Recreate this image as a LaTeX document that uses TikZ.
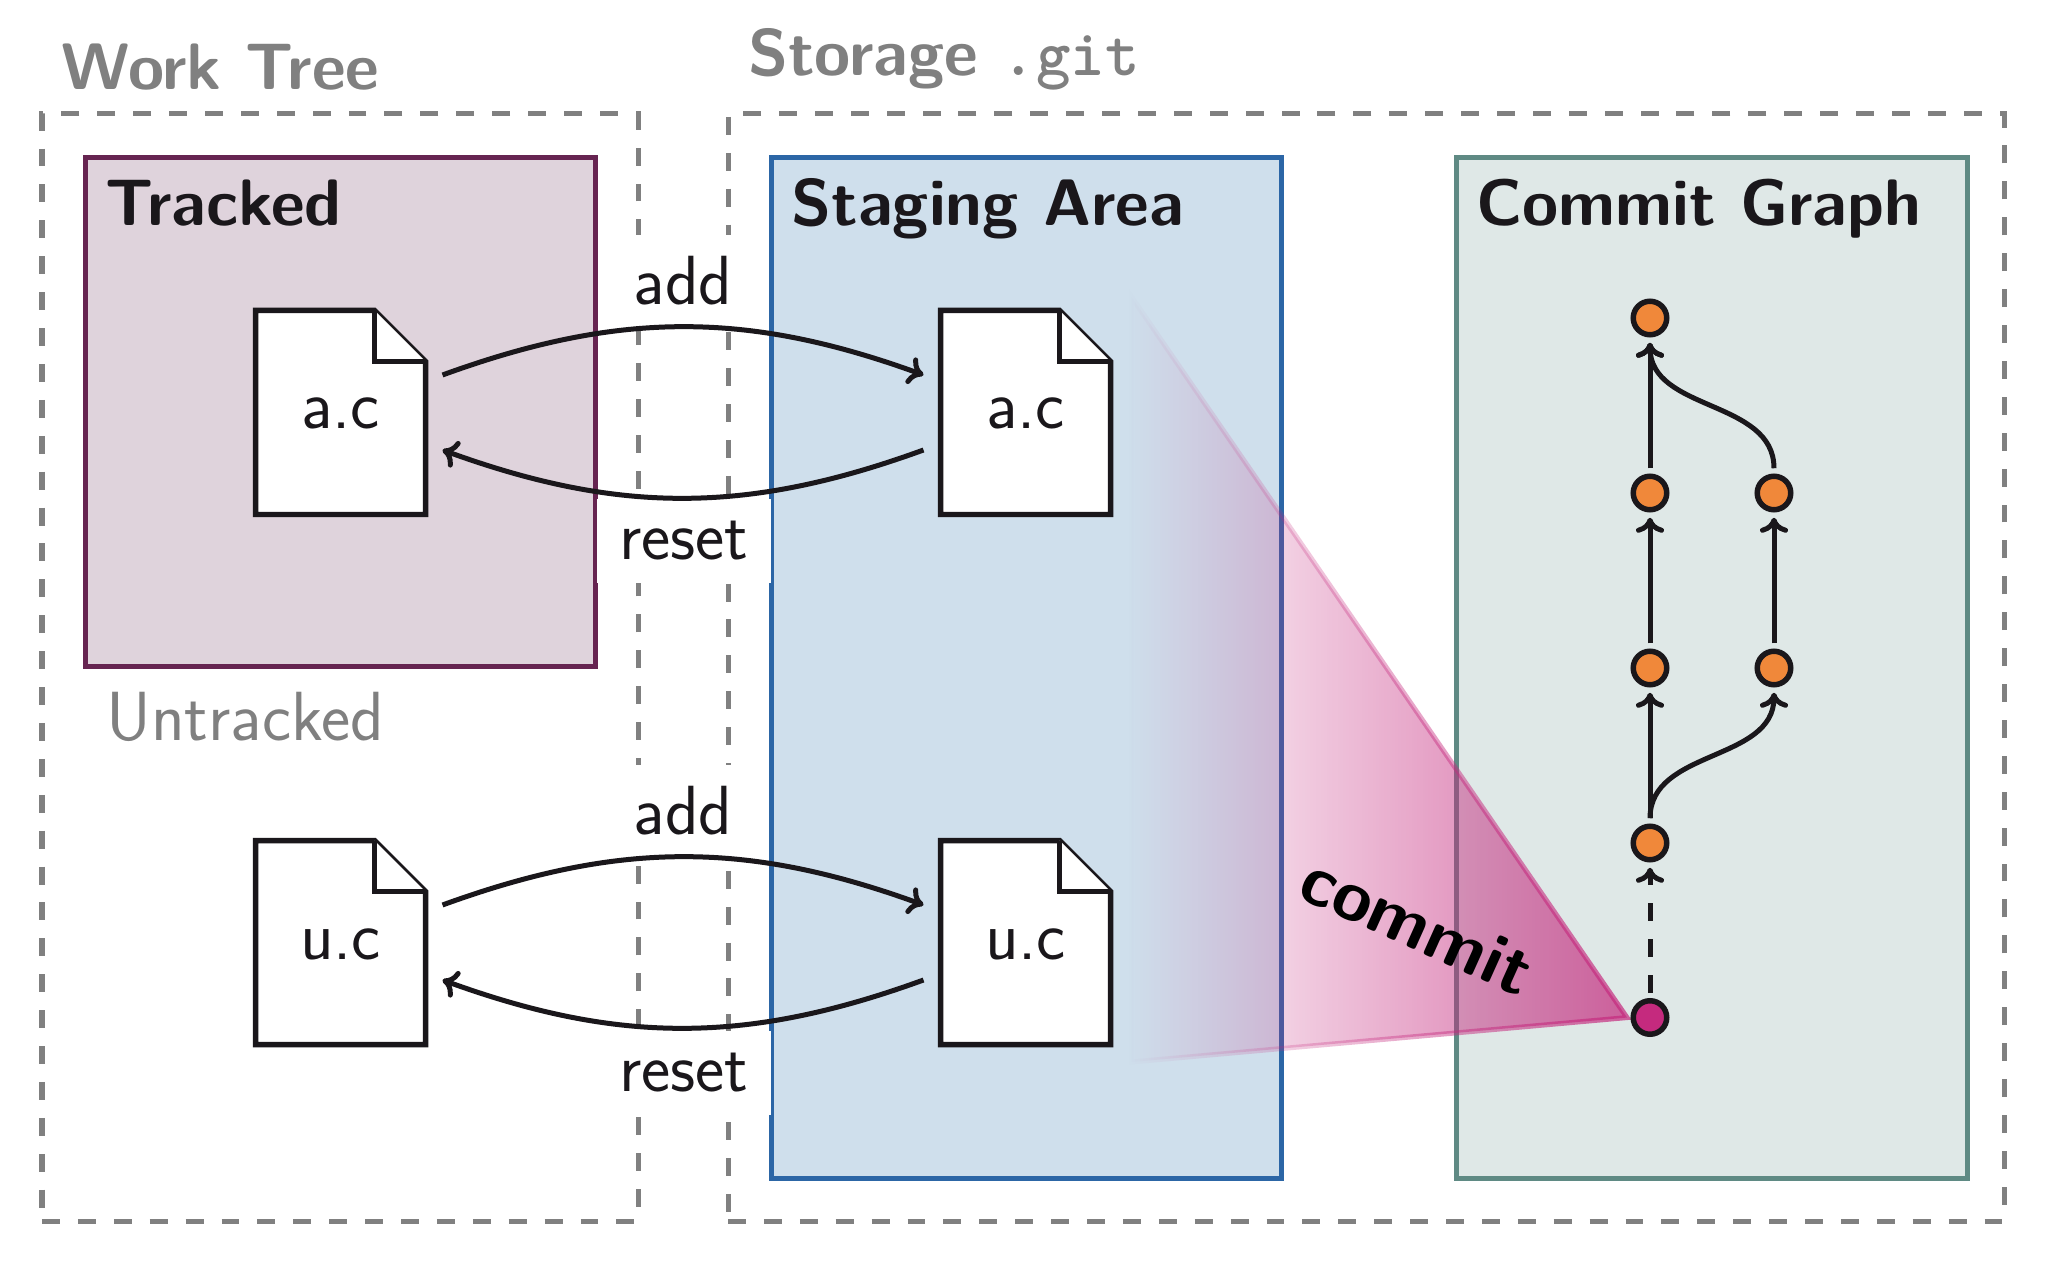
\documentclass[tikz,border=0pt]{standalone}
\usepackage{tikz}
\usetikzlibrary{fadings,arrows.meta}

\definecolor{inkblack}{HTML}{1A171B}
\definecolor{framegray}{HTML}{808080}
\definecolor{trackedfill}{HTML}{DFD3DC}
\definecolor{trackedline}{HTML}{662451}
\definecolor{stagefill}{HTML}{CFDFEC}
\definecolor{stageline}{HTML}{2C66A6}
\definecolor{graphfill}{HTML}{DFE8E7}
\definecolor{graphline}{HTML}{5F8A84}
\definecolor{commitdot}{HTML}{F0883A}
\definecolor{headdot}{HTML}{C52A7E}

\newcommand{\labelfont}{\fontsize{19.8}{23}\selectfont\sffamily}
\newcommand{\headfont}{\fontsize{18.7}{22}\selectfont\sffamily\bfseries}

\tikzfading[name=commitfade, left color=transparent!100, right color=transparent!28]

\tikzset{
  >={Computer Modern Rightarrow[width=.28cm, length=.15cm]},
  outerframe/.style={draw=framegray, line width=.05cm, dash pattern=on .1795cm off .1795cm},
  areabox/.style={line width=.05cm},
  heading/.style={font=\headfont, anchor=base west, inner sep=0},
  oplabel/.style={fill=white, text=inkblack, inner xsep=.225cm, inner ysep=.22cm},
  filepage/.style={draw=inkblack, fill=white, line width=.055cm, line join=miter},
  filename/.style={text=inkblack, text height=.33cm, text depth=0pt, minimum width=1.70cm, minimum height=2.04cm, inner sep=0, outer sep=.17cm},
  oparrow/.style={->, draw=inkblack, line width=.05cm},
  graphdot/.style={circle, draw=inkblack, fill=commitdot, line width=.055cm, minimum size=.335cm, inner sep=0, outer sep=.08cm},
  grapharrow/.style={->, draw=inkblack, line width=.05cm},
}

% page with a folded corner, then its named node on top
\newcommand{\filepagenode}[3]{
  \draw[filepage, shift={(#2)}] (-.85, 1.02) -- (.34, 1.02) -- (.85, .51)
    -- (.85, -1.02) -- (-.85, -1.02) -- cycle;
  \draw[filepage, shift={(#2)}] (.34, 1.02) -- (.34, .51) -- (.85, .51);
  \node[filename] (#1) at (#2) {#3};
}

\begin{document}
\begin{tikzpicture}[font=\labelfont]
    \useasboundingbox (0, 0) rectangle (20.48, 12.66);

    % Draw the two dashed frames
    \draw[outerframe] (0.42, 0.45) -- (6.38, 0.45) -- (6.38, 11.52) -- (0.42, 11.52) -- cycle;
    \draw[outerframe] (7.28, 0.45) -- (20.04, 0.45) -- (20.04, 11.52) -- (7.28, 11.52) -- cycle;
    \node[heading, text=framegray] (worktitle) at (0.61, 11.76) {Work Tree};
    \node[heading, text=framegray] (storagetitle) at (7.475, 11.90) {Storage \texttt{.git}};

    % Draw the coloured areas
    \draw[areabox, draw=trackedline, fill=trackedfill] (0.85, 6.00) rectangle (5.95, 11.08);
    \draw[areabox, draw=stageline, fill=stagefill] (7.71, 0.88) rectangle (12.81, 11.08);
    \draw[areabox, draw=graphline, fill=graphfill] (14.56, 0.88) rectangle (19.67, 11.08);
    \node[heading, text=inkblack] (trackedtitle) at (1.045, 10.40) {Tracked};
    \node[heading, text=inkblack] (stagetitle) at (7.91, 10.40) {Staging Area};
    \node[heading, text=inkblack] (graphtitle) at (14.755, 10.40) {Commit Graph};
    \node[anchor=base west, inner sep=0, text=framegray] (untrackedtitle) at (1.055, 5.26) {Untracked};

    % Draw the commit wedge
    \path[draw=headdot, fill=headdot, line width=.05cm, path fading=commitfade]
        (11.31, 9.70) -- (16.27, 2.485) -- (11.31, 2.04) -- cycle;
    \node[font=\fontsize{20.4}{24}\selectfont\sffamily\bfseries, rotate=-24.2] (committext) at (14.17, 3.41) {commit};

    % Draw the operation labels
    \node[oplabel] (addtop) at (6.83, 9.85) {add};
    \node[oplabel] (resettop) at (6.84, 7.25) {reset};
    \node[oplabel] (addlow) at (6.83, 4.55) {add};
    \node[oplabel] (resetlow) at (6.84, 1.93) {reset};

    % Draw the files
    \filepagenode{treea}{3.405, 8.535}{a.c}
    \filepagenode{stagea}{10.255, 8.535}{a.c}
    \filepagenode{treeu}{3.405, 3.235}{u.c}
    \filepagenode{stageu}{10.255, 3.235}{u.c}

    \draw[oparrow] ([yshift=.375cm]treea.east) to[bend left=20] ([yshift=.375cm]stagea.west);
    \draw[oparrow] ([yshift=-.375cm]stagea.west) to[bend left=20] ([yshift=-.375cm]treea.east);
    \draw[oparrow] ([yshift=.375cm]treeu.east) to[bend left=20] ([yshift=.375cm]stageu.west);
    \draw[oparrow] ([yshift=-.375cm]stageu.west) to[bend left=20] ([yshift=-.375cm]treeu.east);

    % Draw the commit graph
    \node[graphdot] (top) at (16.50, 9.48) {};
    \node[graphdot] (mainc) at (16.50, 7.73) {};
    \node[graphdot] (mainb) at (16.50, 5.98) {};
    \node[graphdot] (maina) at (16.50, 4.23) {};
    \node[graphdot, fill=headdot] (head) at (16.50, 2.485) {};
    \node[graphdot] (sideb) at (17.74, 7.73) {};
    \node[graphdot] (sidea) at (17.74, 5.98) {};

    \draw[grapharrow] (mainc) -- (top);
    \draw[grapharrow] (mainb) -- (mainc);
    \draw[grapharrow] (maina) -- (mainb);
    \draw[grapharrow, dash pattern=on .18cm off .18cm] (head) -- (maina);
    \draw[grapharrow] (sidea) -- (sideb);
    \draw[grapharrow] (maina.north) to[out=90, in=-90] (sidea.south);
    \draw[grapharrow] (sideb.north) to[out=90, in=-90] (top.south);

\end{tikzpicture}
\end{document}
